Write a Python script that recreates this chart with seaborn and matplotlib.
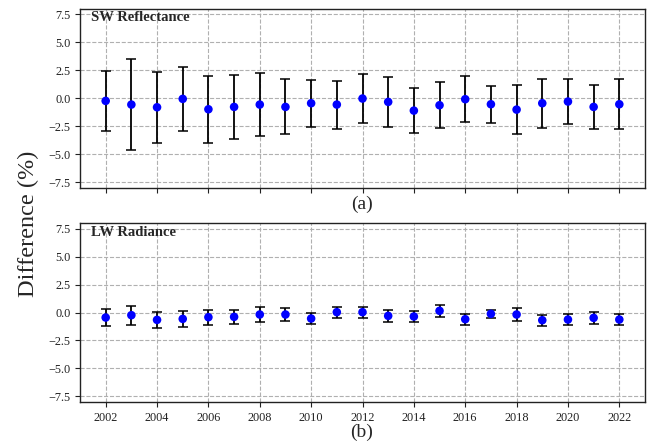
import matplotlib
matplotlib.use("Agg")
import matplotlib.pyplot as plt
import numpy as np
import pandas as pd
import seaborn as sns

years = list(range(2002, 2023))

sw_mean = [-0.24, -0.57, -0.81, -0.06, -0.99, -0.78, -0.57, -0.78, -0.45, -0.57, -0.03,
           -0.33, -1.11, -0.63, -0.09, -0.54, -1.02, -0.45, -0.30, -0.78, -0.54]
sw_err = [2.70, 4.07, 3.15, 2.87, 2.97, 2.85, 2.83, 2.46, 2.10, 2.15, 2.16,
          2.25, 2.03, 2.07, 2.08, 1.65, 2.17, 2.19, 2.05, 1.98, 2.25]

lw_mean = [-0.45, -0.24, -0.66, -0.57, -0.42, -0.39, -0.18, -0.18, -0.54, 0.03, 0.03,
           -0.30, -0.36, 0.15, -0.60, -0.12, -0.18, -0.69, -0.63, -0.48, -0.63]
lw_err = [0.75, 0.84, 0.70, 0.70, 0.66, 0.62, 0.63, 0.57, 0.50, 0.48, 0.50,
          0.52, 0.50, 0.51, 0.50, 0.37, 0.54, 0.50, 0.47, 0.51, 0.52]

panels = [("SW Reflectance", "(a)", sw_mean, sw_err),
          ("LW Radiance", "(b)", lw_mean, lw_err)]

xticks = list(range(2002, 2023, 2))
yticks = [-7.5, -5.0, -2.5, 0.0, 2.5, 5.0, 7.5]

sns.set_style("ticks")
plt.rcParams["font.family"] = ["Liberation Serif", "DejaVu Serif"]
plt.rcParams["axes.unicode_minus"] = True

fig = plt.figure(figsize=(6.52, 4.45), dpi=100)
left, width, height = 80 / 652, 565 / 652, 179 / 445
bottoms = [1 - 187.7 / 445, 1 - 402 / 445]

for i, (name, tag, mean, err) in enumerate(panels):
    ax = fig.add_axes([left, bottoms[i], width, height])
    df = pd.DataFrame({"year": years, "diff": mean, "err": err})
    ax.errorbar(df["year"], df["diff"], yerr=df["err"], fmt="none",
                ecolor="black", elinewidth=1.3, capsize=3.8, capthick=1.1, zorder=2)
    sns.scatterplot(data=df, x="year", y="diff", color="blue", s=38,
                    edgecolor="none", ax=ax, zorder=3, legend=False)
    ax.set_xlim(2001, 2023)
    ax.set_ylim(-8, 8)
    ax.set_xticks(xticks)
    ax.set_yticks(yticks)
    ax.set_yticklabels([f"{v:.1f}".replace("-", "\u2212") for v in yticks])
    if i == 0:
        ax.set_xticklabels([])
    ax.tick_params(axis="both", labelsize=8.8, length=3.5, width=0.8,
                   direction="out", colors="#222222")
    ax.grid(True, color="#b0b0b0", linestyle="--", linewidth=0.8, zorder=0)
    ax.set_axisbelow(True)
    for sp in ax.spines.values():
        sp.set_visible(True)
        sp.set_color("#222222")
        sp.set_linewidth(1.0)
    ax.set_xlabel("")
    ax.set_ylabel("")
    ax.text(0.02, 0.985, name, transform=ax.transAxes, ha="left", va="top",
            fontsize=10.5, fontweight="bold")

fig.text(362 / 652, 1 - 204 / 445, "(a)", ha="center", va="center", fontsize=14)
fig.text(362 / 652, 1 - 432 / 445, "(b)", ha="center", va="center", fontsize=14)
fig.text(28 / 652, 1 - 224 / 445, "Difference (%)", rotation=90,
         ha="center", va="center", fontsize=17.5)

fig.savefig("out.png", dpi=100)
